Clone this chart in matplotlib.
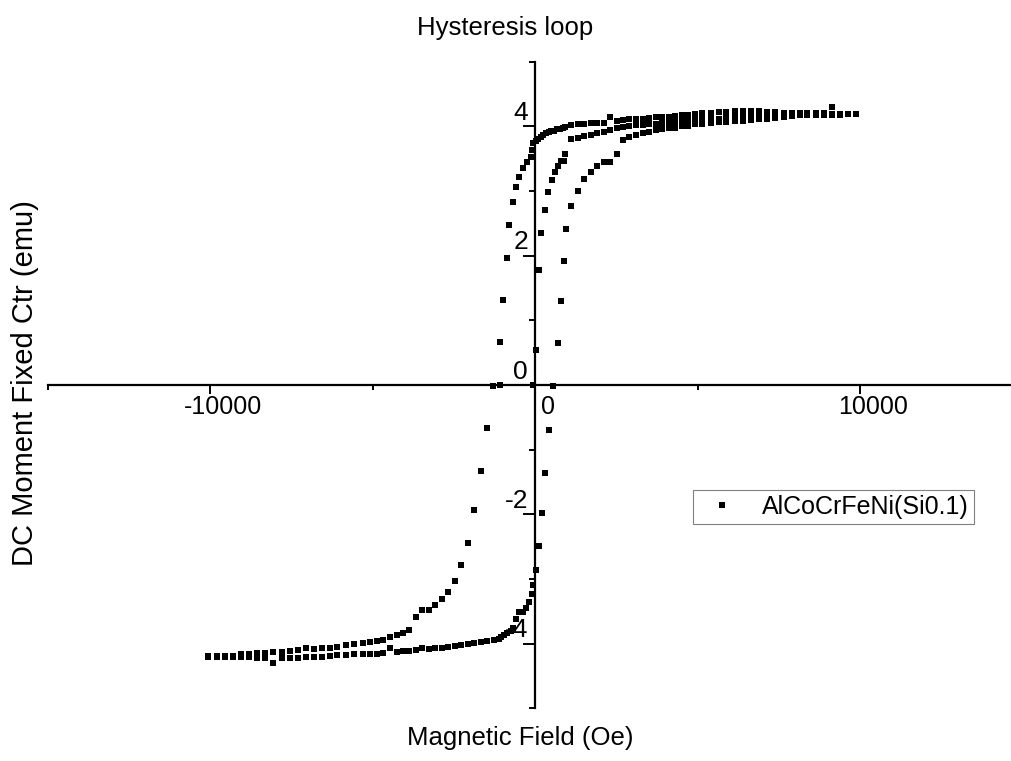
import matplotlib
matplotlib.use('Agg')
import matplotlib.pyplot as plt
from matplotlib.ticker import MultipleLocator
from matplotlib.transforms import ScaledTranslation

plt.rcParams['font.family'] = ['Liberation Sans', 'DejaVu Sans']
plt.rcParams['axes.unicode_minus'] = False

# field grid shared by all three branches above ~2700 Oe
field_high = [2710, 2890, 3110, 3320, 3510, 3720, 3910, 4120, 4310, 4520, 4710, 4920,
              5140, 5420, 5660, 5880, 6150, 6400, 6650, 6890, 7140, 7380, 7660, 7910,
              8150, 8370, 8650, 8890, 9140, 9380, 9630, 9880]

# virgin curve (0 -> +H)
virgin_h = [-60, 30, 120, 185, 310, 400, 520, 615, 710, 800, 890, 920,
            1110, 1320, 1510, 1720, 1910, 2120, 2310, 2520] + field_high
virgin_m = [0.0, 0.54, 1.78, 2.35, 2.70, 2.98, 3.17, 3.29, 3.38, 3.46, 3.46, 3.57,
            3.80, 3.82, 3.85, 3.86, 3.89, 3.91, 3.94, 3.97,
            3.99, 4.01, 4.02, 4.02, 4.03, 4.04, 4.05, 4.06, 4.07, 4.08, 4.09, 4.10,
            4.11, 4.12, 4.12, 4.13, 4.14, 4.15, 4.15, 4.16, 4.16, 4.17, 4.17, 4.18,
            4.18, 4.18, 4.19, 4.19, 4.19, 4.19, 4.19, 4.19]

# descending branch (+H -> -H)
down_h = field_high + [
    2520, 2310, 2120, 1910, 1720, 1510, 1320, 1110,
    920, 860, 770, 675, 585, 490, 430, 340, 245, 185, 90, 30, -60,
    -90, -120, -250, -370, -490, -580, -680, -800, -860, -985, -1080, -1080,
    -1300, -1480, -1660, -1880, -2060, -2280, -2460, -2680, -2860, -3080, -3260, -3480, -3660,
    -3880, -4060, -4250, -4460, -4680, -4860, -5080, -5290, -5570, -5820, -6090, -6310,
    -6550, -6800, -7050, -7290, -7540, -7780, -8060, -8310, -8550, -8800, -9050, -9290,
    -9540, -9780, -10060]
down_m = [4.10, 4.11, 4.12, 4.12, 4.13, 4.14, 4.15, 4.15, 4.16, 4.17, 4.17, 4.19,
          4.20, 4.21, 4.22, 4.22, 4.23, 4.23, 4.23, 4.23, 4.22, 4.22, 4.21, 4.21,
          4.21, 4.20, 4.20, 4.20, 4.30, 4.19, 4.19, 4.19] + [
    4.08, 4.14, 4.05, 4.05, 4.05, 4.03, 4.03, 4.02,
    3.99, 3.97, 3.96, 3.96, 3.93, 3.93, 3.91, 3.89, 3.86, 3.83, 3.80, 3.77, 3.74,
    3.63, 3.52, 3.45, 3.35, 3.21, 3.06, 2.83, 2.47, 1.96, 1.31, 0.66, 0.0,
    -0.02, -0.66, -1.33, -1.93, -2.44, -2.78, -3.03, -3.20, -3.31, -3.40, -3.48, -3.48, -3.59,
    -3.79, -3.83, -3.86, -3.90, -3.94, -3.96, -3.97, -3.99, -4.00, -4.02, -4.05, -4.07,
    -4.07, -4.08, -4.07, -4.10, -4.11, -4.13, -4.13, -4.14, -4.14, -4.16, -4.16, -4.19,
    -4.19, -4.19, -4.19]

# ascending branch (-H -> +H)
up_h = [-10060, -9780, -9540, -9290, -9050, -8800, -8550, -8310, -8060, -7780,
        -7540, -7290, -7050, -6800, -6550, -6310, -6090, -5820, -5570, -5290,
        -5080, -4860, -4680, -4460, -4250, -4060, -3880, -3660, -3480, -3260,
        -3080, -2860, -2680, -2460, -2280, -2060, -1880, -1660, -1480, -1260,
        -1110, -1050, -950, -860, -740, -680, -580, -490, -370, -280,
        -180, -90, -60, 30, 120, 215, 310, 430, 555, 710,
        800, 900, 940, 1110, 1320, 1510, 1720, 1910, 2120, 2310, 2520] + field_high
up_m = [-4.20, -4.20, -4.21, -4.21, -4.20, -4.20, -4.22, -4.22, -4.30, -4.22,
        -4.22, -4.22, -4.21, -4.21, -4.21, -4.19, -4.18, -4.17, -4.16, -4.16,
        -4.15, -4.15, -4.14, -4.07, -4.13, -4.11, -4.11, -4.10, -4.07, -4.08,
        -4.07, -4.07, -4.05, -4.03, -4.02, -4.00, -3.99, -3.97, -3.96, -3.94,
        -3.93, -3.90, -3.86, -3.83, -3.80, -3.76, -3.62, -3.51, -3.51, -3.45,
        -3.35, -3.23, -3.09, -2.86, -2.49, -1.98, -1.36, -0.70, -0.02, 0.65,
        1.30, 1.92, 2.41, 2.77, 3.00, 3.18, 3.29, 3.38, 3.45, 3.45, 3.57,
        3.79, 3.83, 3.86, 3.89, 3.92, 3.94, 3.96, 3.97, 3.98, 4.00, 4.01, 4.03,
        4.04, 4.05, 4.06, 4.07, 4.08, 4.09, 4.10, 4.11, 4.12, 4.13, 4.15, 4.16,
        4.17, 4.17, 4.18, 4.18, 4.18, 4.18, 4.19, 4.19]

field = virgin_h + down_h + up_h
moment = virgin_m + down_m + up_m

fig = plt.figure(figsize=(10.11, 7.61), dpi=100)
ax = fig.add_axes([0.047, 0.069, 0.9644, 0.850])

ax.plot(field, moment, 's', ms=3.7, mew=0, color='black', label='AlCoCrFeNi(Si0.1)')

ax.set_xlim(-15000, 15000)
ax.set_ylim(-5, 5)
for side in ['top', 'right']:
    ax.spines[side].set_visible(False)
ax.spines['left'].set_position(('data', 0))
ax.spines['bottom'].set_position(('data', 0))
for side in ['left', 'bottom']:
    ax.spines[side].set_linewidth(1.6)

ax.set_xticks([-10000, 0, 10000])
ax.xaxis.set_minor_locator(MultipleLocator(5000))
ax.set_yticks([-4, -2, 0, 2, 4])
ax.yaxis.set_minor_locator(MultipleLocator(1))
ax.tick_params(axis='x', which='major', direction='out', length=6.5, width=1.4, labelsize=18, pad=1)
ax.tick_params(axis='x', which='minor', direction='out', length=3.6, width=1.4)
ax.tick_params(axis='y', which='major', direction='out', length=8.6, width=1.4, labelsize=19, pad=0)
ax.tick_params(axis='y', which='minor', direction='out', length=4.3, width=1.4)

# Origin-style label offsets
for lbl in ax.get_xticklabels():
    lbl.set_transform(lbl.get_transform() + ScaledTranslation(0.13, 0, fig.dpi_scale_trans))
for lbl in ax.get_yticklabels():
    lbl.set_transform(lbl.get_transform() + ScaledTranslation(0.05, 0.16, fig.dpi_scale_trans))

fig.text(505 / 1011, 1 - 28 / 761, 'Hysteresis loop', ha='center', va='center', fontsize=18.5)
fig.text(520 / 1011, 1 - 738 / 761, 'Magnetic Field (Oe)', ha='center', va='center', fontsize=18.5)
fig.text(25 / 1011, 1 - 383 / 761, 'DC Moment Fixed Ctr (emu)', ha='center', va='center',
         rotation=90, fontsize=21)

leg = ax.legend(loc='upper left', bbox_to_anchor=(693 / 1011, 1 - 490 / 761),
                bbox_transform=fig.transFigure, fontsize=18, fancybox=False,
                borderpad=0.2, handlelength=1.9, handletextpad=0.65, borderaxespad=0,
                numpoints=1, framealpha=1)
leg.get_frame().set_edgecolor('#808080')
leg.get_frame().set_linewidth(0.8)

fig.savefig('out.png', dpi=100)
